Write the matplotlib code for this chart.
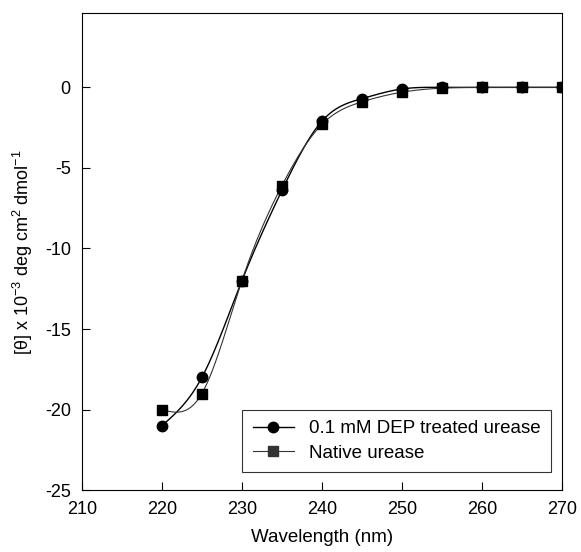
import numpy as np
import matplotlib
matplotlib.use("Agg")
import matplotlib.pyplot as plt

# Wavelength (nm) and ellipticity values
wavelength = [220, 225, 230, 235, 240, 245, 250, 255, 260, 265, 270]
dep_treated = [-21.0, -18.0, -12.0, -6.4, -2.1, -0.7, -0.1, 0.0, 0.0, 0.0, 0.0]
native = [-20.0, -19.0, -12.0, -6.1, -2.3, -0.9, -0.3, -0.05, 0.0, 0.0, 0.0]

x_ticks = [210, 220, 230, 240, 250, 260, 270]
y_ticks = [0, -5, -10, -15, -20, -25]


def natural_spline(x, y, n=400):
    """Natural cubic spline through the points, for the smooth connecting line."""
    x = np.asarray(x, float)
    y = np.asarray(y, float)
    k = len(x)
    h = np.diff(x)
    A = np.zeros((k, k))
    b = np.zeros(k)
    A[0, 0] = A[-1, -1] = 1
    for i in range(1, k - 1):
        A[i, i - 1] = h[i - 1]
        A[i, i] = 2 * (h[i - 1] + h[i])
        A[i, i + 1] = h[i]
        b[i] = 3 * ((y[i + 1] - y[i]) / h[i] - (y[i] - y[i - 1]) / h[i - 1])
    c = np.linalg.solve(A, b)
    bb = (y[1:] - y[:-1]) / h - h * (2 * c[:-1] + c[1:]) / 3
    d = (c[1:] - c[:-1]) / (3 * h)
    xs = np.linspace(x[0], x[-1], n)
    idx = np.clip(np.searchsorted(x, xs) - 1, 0, k - 2)
    dx = xs - x[idx]
    ys = y[idx] + bb[idx] * dx + c[idx] * dx ** 2 + d[idx] * dx ** 3
    return xs, ys


plt.rcParams["font.family"] = ["Liberation Sans", "DejaVu Sans"]
plt.rcParams["axes.unicode_minus"] = False
plt.rcParams["mathtext.default"] = "regular"

fig = plt.figure(figsize=(5.81, 5.52), dpi=100)
ax = fig.add_axes([0.141, 0.112, 0.826, 0.864])

xs, ys = natural_spline(wavelength, dep_treated)
ax.plot(xs, ys, color="black", linewidth=1.0)
xs, ys = natural_spline(wavelength, native)
ax.plot(xs, ys, color="#333333", linewidth=0.8)

ax.plot(wavelength, dep_treated, linestyle="none", marker="o", markersize=7.5,
        color="black")
ax.plot(wavelength, native, linestyle="none", marker="s", markersize=6.5,
        color="black")

# legend proxies (line + marker)
ax.plot([], [], color="black", linewidth=1.0, marker="o", markersize=7.5,
        label="0.1 mM DEP treated urease")
ax.plot([], [], color="#333333", linewidth=0.8, marker="s", markersize=6.5,
        label="Native urease")

ax.set_xlim(210, 270)
ax.set_ylim(-25, 4.6)
ax.set_xticks(x_ticks)
ax.set_yticks(y_ticks)
ax.tick_params(direction="in", length=6, width=0.8, labelsize=13, pad=8)
ax.tick_params(top=False, right=False)

ax.set_xlabel("Wavelength (nm)", fontsize=13.5, labelpad=8)
ax.set_ylabel("[θ] x 10$^{-3}$ deg cm$^{2}$ dmol$^{-1}$", fontsize=13,
              labelpad=7)

leg = ax.legend(loc="lower right", fontsize=13.5, frameon=True, fancybox=False,
                edgecolor="black", borderpad=0.55, handlelength=2.2,
                labelspacing=0.4, borderaxespad=0,
                bbox_to_anchor=(0.977, 0.038))
leg.get_frame().set_linewidth(0.8)

fig.savefig("out.png", dpi=100)
